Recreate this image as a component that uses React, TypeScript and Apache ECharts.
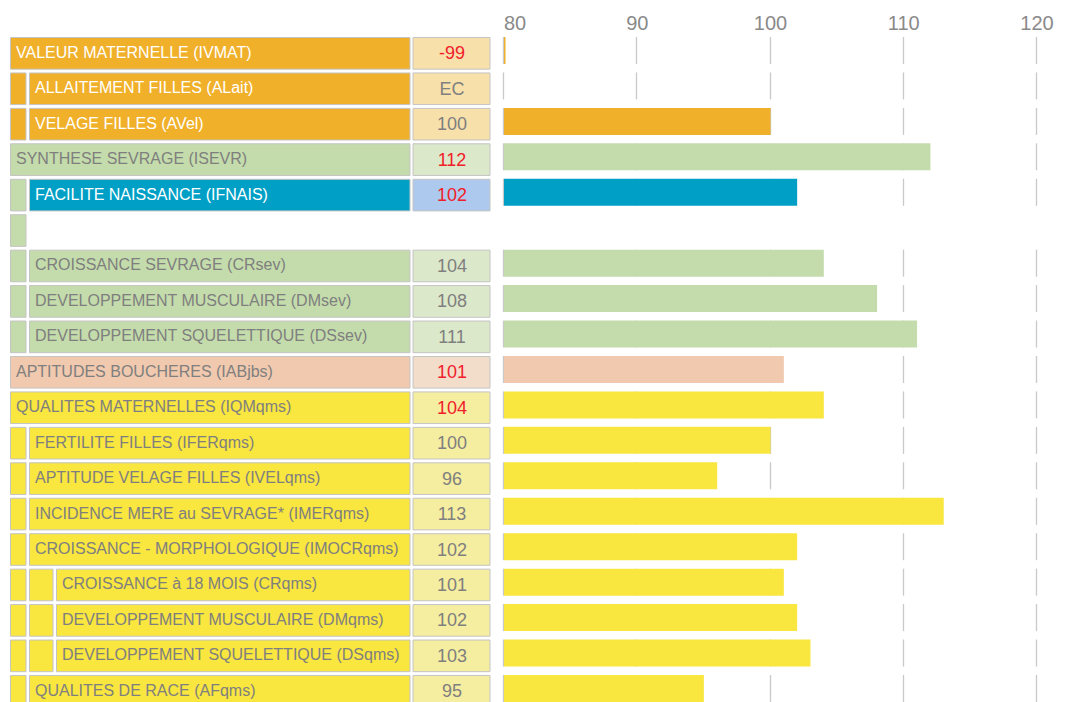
import React, { useEffect, useRef } from "react";
import * as echarts from "echarts";

const labels = [
  "VALEUR MATERNELLE (IVMAT)",
  "ALLAITEMENT FILLES (ALait)",
  "VELAGE FILLES (AVel)",
  "SYNTHESE SEVRAGE (ISEVR)",
  "FACILITE NAISSANCE (IFNAIS)",
  "",
  "CROISSANCE SEVRAGE (CRsev)",
  "DEVELOPPEMENT MUSCULAIRE (DMsev)",
  "DEVELOPPEMENT SQUELETTIQUE (DSsev)",
  "APTITUDES BOUCHERES (IABjbs)",
  "QUALITES MATERNELLES (IQMqms)",
  "FERTILITE FILLES (IFERqms)",
  "APTITUDE VELAGE FILLES (IVELqms)",
  "INCIDENCE MERE au SEVRAGE* (IMERqms)",
  "CROISSANCE - MORPHOLOGIQUE (IMOCRqms)",
  "CROISSANCE à 18 MOIS (CRqms)",
  "DEVELOPPEMENT MUSCULAIRE (DMqms)",
  "DEVELOPPEMENT SQUELETTIQUE (DSqms)",
  "QUALITES DE RACE (AFqms)",
];
const valueTexts = ["-99", "EC", "100", "112", "102", "", "104", "108", "111", "101", "104", "100", "96", "113", "102", "101", "102", "103", "95"];
const barValues: (number | null)[] = [-99, null, 100, 112, 102, null, 104, 108, 111, 101, 104, 100, 96, 113, 102, 101, 102, 103, 95];
const levels = [0, 1, 1, 0, 1, 1, 1, 1, 1, 0, 0, 1, 1, 1, 1, 2, 2, 2, 1];
const groups = ["mat", "mat", "mat", "sev", "nais", "sev", "sev", "sev", "sev", "bou", "qms", "qms", "qms", "qms", "qms", "qms", "qms", "qms", "qms"];
const sections = ["mat", "mat", "mat", "sev", "sev", "sev", "sev", "sev", "sev", "bou", "qms", "qms", "qms", "qms", "qms", "qms", "qms", "qms", "qms"];
const highlighted = [true, false, false, true, true, false, false, false, false, true, true, false, false, false, false, false, false, false, false];
const tickValues = [80, 90, 100, 110, 120];

const palette: Record<string, { main: string; light: string; text: string }> = {
  mat: { main: "#F0B02A", light: "#F8E0AB", text: "#ffffff" },
  sev: { main: "#C4DCAB", light: "#DCE8CA", text: "#7f7f7f" },
  nais: { main: "#00A0C6", light: "#AEC9EE", text: "#ffffff" },
  bou: { main: "#F1C9AE", light: "#F2DDCB", text: "#7f7f7f" },
  qms: { main: "#F9E63F", light: "#F5EDA0", text: "#7f7f7f" },
};

const BORDER = "#c4c4c4";
const RED = "#f0202a";
const GREY = "#7f7f7f";
const FONT = "Liberation Sans";

export default function App() {
  const ref = useRef<HTMLDivElement>(null);
  useEffect(() => {
    if (!ref.current) return;
    const chart = echarts.init(ref.current, undefined, { renderer: "svg" });
    const rowData = labels.map((_, i) => [80, i]);

    const cellBox = (api: any, i: number) => {
      const c = api.coord([80, i]);
      const h = api.size([0, 1])[1];
      const top = c[1] - h / 2 + 1.4;
      return { top, height: h - 2.8, yc: top + (h - 2.8) / 2 };
    };

    const option: any = {
      animation: false,
      backgroundColor: "#ffffff",
      grid: { left: 504, right: 33, top: 35.6, bottom: 0, containLabel: false },
      xAxis: {
        type: "value",
        position: "top",
        min: 80,
        max: 120,
        interval: 10,
        axisLine: { show: false },
        axisTick: { show: false },
        splitLine: { show: false },
        axisLabel: {
          fontSize: 20,
          color: "#8a8a8a",
          fontFamily: FONT,
          margin: 3,
          alignMinLabel: "left",
          alignMaxLabel: "center",
        },
      },
      yAxis: {
        type: "category",
        inverse: true,
        data: labels,
        axisLine: { show: false },
        axisTick: { show: false },
        axisLabel: { show: false },
        splitLine: { show: false },
      },
      series: [
        {
          type: "custom",
          name: "grid",
          z: 1,
          silent: true,
          data: rowData,
          renderItem: (params: any, api: any) => {
            const i = params.dataIndex;
            if (!labels[i]) return null;
            const b = cellBox(api, i);
            return {
              type: "group",
              children: tickValues.map((t) => {
                const x = Math.round(api.coord([t, i])[0]) - 0.5;
                return {
                  type: "line",
                  shape: { x1: x, y1: b.top, x2: x, y2: b.top + 27 },
                  style: { stroke: "#c9c9c9", lineWidth: 1.3 },
                };
              }),
            };
          },
        },
        {
          type: "custom",
          name: "bars",
          z: 2,
          silent: true,
          data: rowData,
          renderItem: (params: any, api: any) => {
            const i = params.dataIndex;
            const v = barValues[i];
            if (v == null) return null;
            const b = cellBox(api, i);
            const x0 = api.coord([80, i])[0];
            const x1 = v > 80 ? api.coord([v, i])[0] : x0 + 1.5;
            return {
              type: "rect",
              shape: { x: x0, y: b.top, width: x1 - x0, height: 27 },
              style: { fill: palette[groups[i]].main },
            };
          },
        },
        {
          type: "custom",
          name: "table",
          z: 3,
          silent: true,
          clip: false,
          data: rowData,
          renderItem: (params: any, api: any) => {
            const i = params.dataIndex;
            const b = cellBox(api, i);
            const lvl = levels[i];
            const sec = palette[sections[i]];
            const grp = palette[groups[i]];
            const children: any[] = [];
            const indentX = [[10, 26.5], [29, 53.5]];
            for (let k = 0; k < lvl; k++) {
              children.push({
                type: "rect",
                shape: { x: indentX[k][0] + 0.5, y: b.top + 0.5, width: indentX[k][1] - indentX[k][0] - 1, height: b.height - 1 },
                style: { fill: sec.main, stroke: BORDER, lineWidth: 1 },
              });
            }
            if (labels[i]) {
              const start = [10, 29, 56][lvl];
              children.push({
                type: "rect",
                shape: { x: start + 0.5, y: b.top + 0.5, width: 410.5 - start - 1, height: b.height - 1 },
                style: { fill: grp.main, stroke: BORDER, lineWidth: 1 },
              });
              children.push({
                type: "text",
                style: {
                  text: labels[i],
                  x: start + 6,
                  y: b.yc - 1,
                  fill: grp.text,
                  fontSize: 16,
                  fontFamily: FONT,
                  align: "left",
                  verticalAlign: "middle",
                },
              });
              children.push({
                type: "rect",
                shape: { x: 413, y: b.top + 0.5, width: 77, height: b.height - 1 },
                style: { fill: grp.light, stroke: BORDER, lineWidth: 1 },
              });
              children.push({
                type: "text",
                style: {
                  text: valueTexts[i],
                  x: 452,
                  y: b.yc,
                  fill: highlighted[i] ? RED : GREY,
                  fontSize: 18,
                  fontFamily: FONT,
                  align: "center",
                  verticalAlign: "middle",
                },
              });
            }
            return { type: "group", children };
          },
        },
      ],
    };
    chart.setOption(option);
    return () => chart.dispose();
  }, []);
  return (
    <div
      ref={ref}
      style={{ position: "fixed", left: 0, top: 0, width: 1070, height: 709, background: "#fff" }}
    />
  );
}
